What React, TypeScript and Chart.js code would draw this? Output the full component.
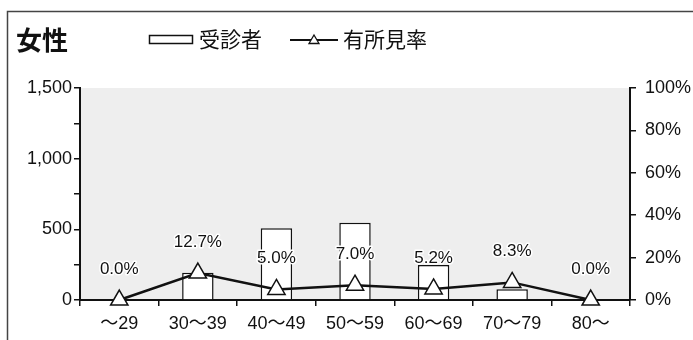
import React, { useEffect, useRef } from "react";
import { Chart, registerables } from "chart.js";

Chart.register(...registerables);

const categories = ["～29", "30～39", "40～49", "50～59", "60～69", "70～79", "80～"];
const examinees = [0, 193, 507, 547, 248, 76, 0];
const findingRate = [0.0, 12.7, 5.0, 7.0, 5.2, 8.3, 0.0];
const leftTicks = [0, 500, 1000, 1500];
const rightTicks = [0, 20, 40, 60, 80, 100];
const titleText = "女性";
const legendBar = "受診者";
const legendLine = "有所見率";

const FONT = "'Liberation Sans', 'Noto Sans CJK JP', sans-serif";

const decorPlugin = {
  id: "decor",
  beforeDraw(chart: any) {
    const { ctx, chartArea } = chart;
    ctx.save();
    ctx.fillStyle = "#ffffff";
    ctx.fillRect(0, 0, chart.width, chart.height);
    ctx.fillStyle = "#eeeeee";
    ctx.fillRect(chartArea.left, chartArea.top, chartArea.right - chartArea.left, chartArea.bottom - chartArea.top);
    // outer frame
    ctx.strokeStyle = "#444444";
    ctx.lineWidth = 1.5;
    ctx.beginPath();
    ctx.moveTo(7.5, chart.height);
    ctx.lineTo(7.5, 11.5);
    ctx.lineTo(chart.width, 11.5);
    ctx.stroke();
    // title
    ctx.fillStyle = "#111111";
    ctx.font = "bold 26px " + FONT;
    ctx.textBaseline = "middle";
    ctx.textAlign = "left";
    ctx.fillText(titleText, 16, 43);
    // legend: bar
    ctx.strokeStyle = "#111111";
    ctx.lineWidth = 1.5;
    ctx.fillStyle = "#ffffff";
    ctx.fillRect(149.5, 35.5, 43, 8);
    ctx.strokeRect(149.5, 35.5, 43, 8);
    ctx.fillStyle = "#111111";
    ctx.font = "21px " + FONT;
    ctx.fillText(legendBar, 199, 41);
    // legend: line
    ctx.lineWidth = 2;
    ctx.beginPath();
    ctx.moveTo(290, 40);
    ctx.lineTo(338, 40);
    ctx.stroke();
    ctx.fillStyle = "#ffffff";
    ctx.lineWidth = 1.3;
    ctx.beginPath();
    ctx.moveTo(314, 35);
    ctx.lineTo(319, 43.5);
    ctx.lineTo(309, 43.5);
    ctx.closePath();
    ctx.fill();
    ctx.stroke();
    ctx.fillStyle = "#111111";
    ctx.font = "21px " + FONT;
    ctx.fillText(legendLine, 343, 41);
    ctx.restore();
  },
  afterDatasetsDraw(chart: any) {
    const { ctx } = chart;
    const meta = chart.getDatasetMeta(1);
    ctx.save();
    ctx.font = "17px " + FONT;
    ctx.textAlign = "center";
    ctx.textBaseline = "middle";
    ctx.lineJoin = "round";
    meta.data.forEach((pt: any, i: number) => {
      const label = findingRate[i].toFixed(1) + "%";
      const y = pt.y - 31;
      ctx.strokeStyle = "#ffffff";
      ctx.lineWidth = 3;
      ctx.strokeText(label, pt.x, y);
      ctx.fillStyle = "#111111";
      ctx.fillText(label, pt.x, y);
    });
    ctx.restore();
  },
};

export default function App() {
  const ref = useRef<HTMLCanvasElement>(null);
  useEffect(() => {
    if (!ref.current) return;
    const chart = new Chart(ref.current, {
      type: "bar",
      data: {
        labels: categories,
        datasets: [
          {
            type: "bar",
            label: legendBar,
            data: examinees,
            backgroundColor: "#ffffff",
            borderColor: "#111111",
            borderWidth: 1.5,
            barPercentage: 0.4,
            categoryPercentage: 1,
            yAxisID: "y",
            order: 2,
          },
          {
            type: "line",
            label: legendLine,
            data: findingRate,
            borderColor: "#111111",
            borderWidth: 2.5,
            pointStyle: "triangle",
            pointRadius: 10,
            pointBackgroundColor: "#ffffff",
            pointBorderColor: "#111111",
            pointBorderWidth: 1.5,
            clip: false,
            yAxisID: "y2",
            order: 1,
          } as any,
        ],
      },
      options: {
        responsive: false,
        animation: false,
        layout: { padding: { top: 88, left: 0, right: 0, bottom: 0 } },
        plugins: { legend: { display: false }, tooltip: { enabled: false } },
        scales: {
          x: {
            offset: true,
            grid: {
              offset: true,
              drawOnChartArea: false,
              color: "#111111",
              tickLength: 6,
              lineWidth: 1.5,
            },
            border: { color: "#111111", width: 2 },
            ticks: { color: "#111111", font: { size: 18, family: FONT }, padding: 7 },
            afterFit: (s: any) => { s.height = 40; },
          },
          y: {
            position: "left",
            min: 0,
            max: 1500,
            grid: { drawOnChartArea: false, color: "#111111", tickLength: 6, lineWidth: 1.5 },
            border: { color: "#111111", width: 2 },
            ticks: {
              stepSize: 250,
              color: "#111111",
              font: { size: 18, family: FONT },
              padding: 2,
              callback: (v: any) => (leftTicks.includes(Number(v)) ? Number(v).toLocaleString("en-US") : ""),
            },
            afterFit: (s: any) => { s.width = 80; },
          },
          y2: {
            position: "right",
            min: 0,
            max: 100,
            grid: { drawOnChartArea: false, color: "#111111", tickLength: 6, lineWidth: 1.5 },
            border: { color: "#111111", width: 2 },
            ticks: {
              stepSize: 20,
              color: "#111111",
              font: { size: 18, family: FONT },
              padding: 9,
              callback: (v: any) => (rightTicks.includes(Number(v)) ? v + "%" : ""),
            },
            afterFit: (s: any) => { s.width = 63; },
          },
        },
      },
      plugins: [decorPlugin],
    });
    return () => chart.destroy();
  }, []);
  return (
    <div style={{ position: "fixed", left: 0, top: 0, width: 693, height: 340, background: "#fff" }}>
      <canvas ref={ref} width={693} height={340} style={{ display: "block" }} />
    </div>
  );
}
